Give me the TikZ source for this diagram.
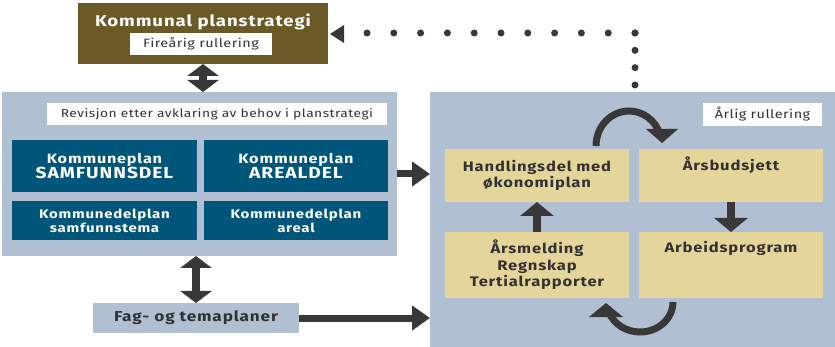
\documentclass[tikz,border=0pt]{standalone}
\usepackage{fontspec}
\setmainfont[FakeStretch=1.2,LetterSpace=4,BoldFeatures={FakeStretch=1.2,LetterSpace=6}]{Fira Sans}
\usetikzlibrary{arrows.meta}
\definecolor{kpbrown}{RGB}{107,90,38}
\definecolor{panelblue}{RGB}{176,192,210}
\definecolor{darkblue}{RGB}{0,86,122}
\definecolor{sand}{RGB}{228,213,155}
\definecolor{arrowgray}{RGB}{56,56,56}
\definecolor{txtgray}{RGB}{50,50,50}
\begin{document}
\begin{tikzpicture}[x=1pt,y=-1pt,
  box/.style={rectangle,inner sep=0pt,outer sep=0pt},
  panel/.style={box,fill=panelblue},
  whitebox/.style={box,fill=white,text=txtgray,font=\fontsize{11.5}{13}\selectfont},
  bluebox/.style={box,fill=darkblue,text=white,align=center,font=\bfseries\fontsize{13.5}{15.5}\selectfont},
  sandbox/.style={box,fill=sand,text=txtgray,align=center,font=\bfseries\fontsize{13.8}{16.5}\selectfont},
  vdbl/.style={draw=arrowgray,line width=8pt,{Triangle[width=31pt,length=12pt]}-{Triangle[width=31pt,length=12pt]}},
  harr/.style={draw=arrowgray,line width=7pt,-{Triangle[width=24pt,length=18pt]}},
  varr/.style={draw=arrowgray,line width=8.5pt,-{Triangle[width=33pt,length=14pt]}},
  curv/.style={draw=arrowgray,line width=7pt},
  dots/.style={draw=arrowgray,line width=7pt,line cap=round}
]
\useasboundingbox (0,0) rectangle (835,347);

% top box
\node[box,fill=kpbrown,minimum width=250pt,minimum height=61pt] (kps) at (203,33.5) {};
\node[text=white,font=\bfseries\fontsize{15.5}{18}\selectfont,inner sep=0pt] (kpstitle) at (203,22) {Kommunal planstrategi};
\node[whitebox,minimum width=142pt,minimum height=22pt,font=\fontsize{12}{14}\selectfont] (fire) at (201,44) {Fireårig rullering};

% left panel
\node[panel,minimum width=395pt,minimum height=164pt] (left) at (199.5,174) {};
\node[whitebox,minimum width=340pt,minimum height=22pt] (rev) at (217,114) {Revisjon etter avklaring av behov i planstrategi};
\node[bluebox,minimum width=185pt,minimum height=52pt] (ksam) at (104.5,166) {Kommuneplan\\{\fontsize{16}{17.5}\selectfont SAMFUNNSDEL}};
\node[bluebox,minimum width=184pt,minimum height=52pt] (kare) at (296,166) {Kommuneplan\\{\fontsize{16}{17.5}\selectfont AREALDEL}};
\node[bluebox,minimum width=185pt,minimum height=39pt,font=\bfseries\fontsize{12.5}{14}\selectfont] (kdsam) at (104.5,220.5) {Kommunedelplan\\samfunnstema};
\node[bluebox,minimum width=184pt,minimum height=39pt,font=\bfseries\fontsize{12.5}{14}\selectfont] (kdare) at (296,220.5) {Kommunedelplan\\areal};

% fag box
\node[panel,minimum width=206pt,minimum height=30pt,text=txtgray,font=\bfseries\fontsize{14.3}{16}\selectfont] (fag) at (196,318) {Fag- og temaplaner};

% right panel
\node[panel,minimum width=405pt,minimum height=255pt] (right) at (632.5,219.5) {};
\node[whitebox,minimum width=119pt,minimum height=23pt,font=\fontsize{12}{14}\selectfont] (arl) at (762.5,114.5) {Årlig rullering};

% curved arrows (drawn before the boxes)
\draw[curv] (596,146) arc[start angle=180,end angle=340,x radius=33,y radius=35];
\coordinate (ct1) at (646,129); \coordinate (ct2) at (678,129); \coordinate (ct3) at (662,143);
\fill[arrowgray] (ct1) -- (ct2) -- (ct3) -- cycle;
\draw[curv] (673,302) arc[start angle=0,end angle=160,x radius=33,y radius=30];
\coordinate (cb1) at (589,317); \coordinate (cb2) at (623,317); \coordinate (cb3) at (606,303);
\fill[arrowgray] (cb1) -- (cb2) -- (cb3) -- cycle;

% yellow boxes
\node[sandbox,minimum width=184pt,minimum height=53pt] (hand) at (537,175.5) {Handlingsdel med\\økonomiplan};
\node[sandbox,minimum width=184pt,minimum height=53pt] (budsj) at (731,175.5) {};
\node[sandbox,minimum width=184pt,minimum height=66pt] (aarsm) at (537,265) {Årsmelding\\Regnskap\\Tertialrapporter};
\node[sandbox,minimum width=184pt,minimum height=66pt] (arb) at (731,265) {};
\node[anchor=base,inner sep=0pt,text=txtgray,font=\bfseries\fontsize{13.8}{16.5}\selectfont] (budsjtxt) at (731,171) {Årsbudsjett};
\node[anchor=base,inner sep=0pt,text=txtgray,font=\bfseries\fontsize{13.8}{16.5}\selectfont] (arbtxt) at (731,253) {Arbeidsprogram};

% arrows
\draw[vdbl] (kps.south) -- (kps.south |- left.north);
\draw[vdbl] (fag.north |- left.south) -- (fag.north);
\draw[harr] (left.east) -- (left.east -| right.west);
\draw[harr] (fag.east) -- (fag.east -| right.west);
\draw[varr] (aarsm.north) -- (hand.south);
\draw[varr] (budsj.south) -- (arb.north);

% dotted feedback
\coordinate (dcorner) at (635,33);
\coordinate (dlow) at (635,85);
\coordinate (dend) at (366,33);
\draw[dots,dash pattern=on 0pt off 17.33pt] (dcorner) -- (dlow);
\draw[dots,dash pattern=on 0pt off 26.8pt] (dcorner) -- (dend);
\coordinate (dt1) at (330,34); \coordinate (dt2) at (344,25); \coordinate (dt3) at (344,43);
\fill[arrowgray] (dt1) -- (dt2) -- (dt3) -- cycle;
\end{tikzpicture}
\end{document}
